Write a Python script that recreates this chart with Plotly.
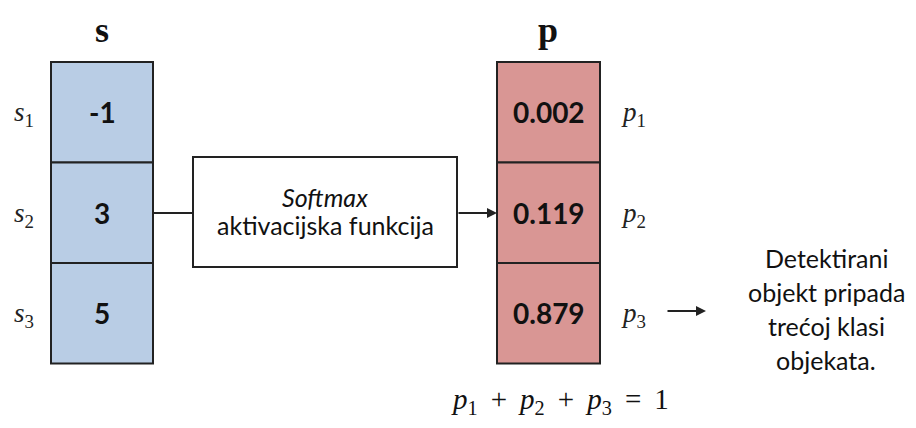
import plotly.graph_objects as go

# ---- data ----
s_values = ["-1", "3", "5"]
p_values = ["0.002", "0.119", "0.879"]
s_labels = ["s<sub>1</sub>", "s<sub>2</sub>", "s<sub>3</sub>"]
p_labels = ["p<sub>1</sub>", "p<sub>2</sub>", "p<sub>3</sub>"]
box_lines = ["<i>Softmax</i>", "aktivacijska funkcija"]
result_lines = ["Detektirani", "objekt pripada", "trećoj klasi", "objekata."]
SP = "\u00a0\u2009"
equation = ("<i>p</i><sub>1</sub>" + SP + "+" + SP + "<i>p</i><sub>2</sub>" + SP + "+" + SP +
            "<i>p</i><sub>3</sub>" + SP + "=" + SP + "1")

W, H = 916, 428
PAD = 8  # default page body margin
BLUE = "#b9cde5"
RED = "#d99694"
EDGE = "#222222"
SANS = "Lato, Open Sans, sans-serif"
SERIF = "Liberation Serif, DejaVu Serif, serif"

fig = go.Figure()
shapes = []
ann = []

top, cell_h = 62, 100.5
colL = (51, 153)
colR = (497, 600)


def column(x0x1, vals, labels, fill, lab_x, header, hx):
    x0, x1 = x0x1
    for i, v in enumerate(vals):
        y0 = top + i * cell_h
        y1 = y0 + cell_h
        shapes.append(dict(type="rect", xref="x", yref="y", x0=x0, x1=x1, y0=y0, y1=y1,
                           fillcolor=fill, line=dict(color=EDGE, width=2), layer="below"))
        ann.append(dict(x=(x0 + x1) / 2, y=(y0 + y1) / 2, text="<b>" + v + "</b>", showarrow=False,
                        xanchor="center", yanchor="middle",
                        font=dict(family=SANS, size=28, color="#111111")))
        ann.append(dict(x=lab_x, y=(y0 + y1) / 2 + 2,
                        text="<i>" + labels[i].replace("<sub>", "</i><sub>"), showarrow=False,
                        xanchor="center", yanchor="middle",
                        font=dict(family=SERIF, size=27, color="#222222")))
    ann.append(dict(x=hx, y=30, text="<b>" + header + "</b>", showarrow=False,
                    xanchor="center", yanchor="middle",
                    font=dict(family=SERIF, size=36, color="#111111")))


column(colL, s_values, s_labels, BLUE, 24, "s", 102)
column(colR, p_values, p_labels, RED, 633, "p", 548)

# middle box
bx0, bx1, by0, by1 = 193, 457, 157, 267
mid_y = 213
shapes.append(dict(type="rect", xref="x", yref="y", x0=bx0, x1=bx1, y0=by0, y1=by1,
                   fillcolor="white", line=dict(color=EDGE, width=2)))
shapes.append(dict(type="line", xref="x", yref="y", x0=colL[1], x1=bx0, y0=mid_y, y1=mid_y,
                   line=dict(color=EDGE, width=2)))
for i, t in enumerate(box_lines):
    ann.append(dict(x=(bx0 + bx1) / 2, y=197 + i * 28, text=t, showarrow=False,
                    xanchor="center", yanchor="middle",
                    font=dict(family=SANS, size=25, color="#111111")))

# arrows
ann.append(dict(x=colR[0], y=mid_y, ax=bx1, ay=mid_y, axref="x", ayref="y", xref="x", yref="y",
                text="", showarrow=True, arrowhead=2, arrowsize=1, arrowwidth=2, arrowcolor=EDGE))
ann.append(dict(x=706, y=311, ax=666, ay=311, axref="x", ayref="y", xref="x", yref="y",
                text="", showarrow=True, arrowhead=2, arrowsize=1, arrowwidth=2, arrowcolor=EDGE))

for i, t in enumerate(result_lines):
    ann.append(dict(x=826, y=258 + i * 34, text=t, showarrow=False,
                    xanchor="center", yanchor="middle",
                    font=dict(family=SANS, size=25, color="#111111")))

ann.append(dict(x=560, y=401, text=equation, showarrow=False, xanchor="center", yanchor="middle",
                font=dict(family=SERIF, size=29, color="#111111")))

fig.add_trace(go.Scatter(x=[PAD, W - PAD], y=[PAD, H - PAD], mode="markers",
                         marker=dict(opacity=0), hoverinfo="skip", showlegend=False))

fig.update_layout(width=W - 2 * PAD, height=H - 2 * PAD, margin=dict(l=0, r=0, t=0, b=0),
                  paper_bgcolor="white", plot_bgcolor="white",
                  xaxis=dict(range=[PAD, W - PAD], visible=False, fixedrange=True),
                  yaxis=dict(range=[H - PAD, PAD], visible=False, fixedrange=True),
                  shapes=shapes, annotations=ann, showlegend=False)

fig.write_html("out.html")
